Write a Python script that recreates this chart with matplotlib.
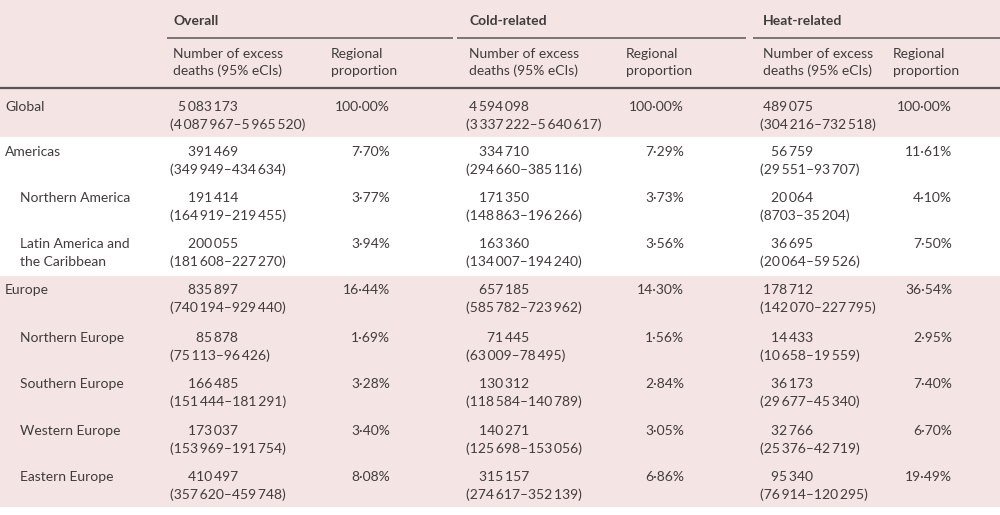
import matplotlib
matplotlib.use("Agg")
import matplotlib.pyplot as plt

plt.rcParams["font.family"] = ["Lato", "DejaVu Sans"]

TEXT = "#403c3c"
PINK = "#f4e4e4"
RULE = "#5a5656"

groups = ["Overall", "Cold-related", "Heat-related"]
sub_num = ["Number of excess", "deaths (95% eCIs)"]
sub_prop = ["Regional", "proportion"]

regions = ["Global", "Americas", "Northern America", "Latin America and\nthe Caribbean",
           "Europe", "Northern Europe", "Southern Europe", "Western Europe", "Eastern Europe"]
levels = [0, 0, 1, 1, 0, 1, 1, 1, 1]

overall_n = [5083173, 391469, 191414, 200055, 835897, 85878, 166485, 173037, 410497]
overall_lo = [4087967, 349949, 164919, 181608, 740194, 75113, 151444, 153969, 357620]
overall_hi = [5965520, 434634, 219455, 227270, 929440, 96426, 181291, 191754, 459748]
overall_p = [100.00, 7.70, 3.77, 3.94, 16.44, 1.69, 3.28, 3.40, 8.08]

cold_n = [4594098, 334710, 171350, 163360, 657185, 71445, 130312, 140271, 315157]
cold_lo = [3337222, 294660, 148863, 134007, 585782, 63009, 118584, 125698, 274617]
cold_hi = [5640617, 385116, 196266, 194240, 723962, 78495, 140789, 153056, 352139]
cold_p = [100.00, 7.29, 3.73, 3.56, 14.30, 1.56, 2.84, 3.05, 6.86]

heat_n = [489075, 56759, 20064, 36695, 178712, 14433, 36173, 32766, 95340]
heat_lo = [304216, 29551, 8703, 20064, 142070, 10658, 29677, 25376, 76914]
heat_hi = [732518, 93707, 35204, 59526, 227795, 19559, 45340, 42719, 120295]
heat_p = [100.00, 11.61, 4.10, 7.50, 36.54, 2.95, 7.40, 6.70, 19.49]


def fmt_int(v):
    # Lancet style: thin-space thousands separator only from 5 digits up
    s = str(v)
    if len(s) < 5:
        return s
    parts = []
    while s:
        parts.insert(0, s[-3:])
        s = s[:-3]
    return "\u2009".join(parts)


def fmt_pct(v):
    return f"{v:.2f}".replace(".", "\u00b7") + "%"


fig = plt.figure(figsize=(10, 5.15), dpi=100)
ax = fig.add_axes([0, 0, 1, 1])
ax.set_xlim(0, 1000)
ax.set_ylim(515, 0)
ax.axis("off")

# background bands
ax.axhspan(0, 137, color=PINK, lw=0)
ax.axhspan(137, 276, color="white", lw=0)
ax.axhspan(276, 507, color=PINK, lw=0)

fs = 10
left_x = [170, 466, 760]
num_right = [238, 529, 813]
prop_right = [390, 684, 952]
prop_head = [331, 626, 893]
rule_spans = [(167, 453), (457, 746), (753, 1000)]

for g, lx, ph, (r0, r1) in zip(groups, left_x, prop_head, rule_spans):
    ax.text(lx + 3, 21, g, fontsize=fs, fontweight="bold", color=TEXT, va="center")
    ax.plot([r0, r1], [38, 38], color=RULE, lw=1.1, solid_capstyle="butt")
    ax.text(lx + 3, 54, sub_num[0], fontsize=fs, color=TEXT, va="center")
    ax.text(lx + 3, 71, sub_num[1], fontsize=fs, color=TEXT, va="center")
    ax.text(ph, 54, sub_prop[0], fontsize=fs, color=TEXT, va="center")
    ax.text(ph, 71, sub_prop[1], fontsize=fs, color=TEXT, va="center")

ax.plot([0, 1000], [88, 88], color=RULE, lw=1.6, solid_capstyle="butt")

row_y = [107, 152, 198, 244, 290, 338, 384, 431, 477]
line_gap = 18
cols = [
    (overall_n, overall_lo, overall_hi, overall_p),
    (cold_n, cold_lo, cold_hi, cold_p),
    (heat_n, heat_lo, heat_hi, heat_p),
]

for i, (name, lvl, y) in enumerate(zip(regions, levels, row_y)):
    lx = 5 if lvl == 0 else 20
    for k, line in enumerate(name.split("\n")):
        ax.text(lx, y + k * line_gap, line, fontsize=fs, color=TEXT, va="center")
    for (n, lo, hi, p), cx, nr, pr in zip(cols, left_x, num_right, prop_right):
        ax.text(nr, y, fmt_int(n[i]), fontsize=fs, color=TEXT, va="center", ha="right")
        ax.text(cx, y + line_gap, f"({fmt_int(lo[i])}\u2013{fmt_int(hi[i])})",
                fontsize=fs, color=TEXT, va="center")
        ax.text(pr, y, fmt_pct(p[i]), fontsize=fs, color=TEXT, va="center", ha="right")

fig.savefig("out.png", dpi=100)
